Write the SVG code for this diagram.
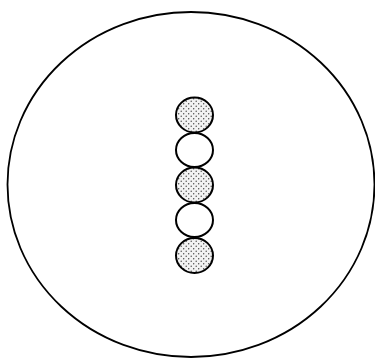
<svg xmlns="http://www.w3.org/2000/svg" width="375" height="361" viewBox="0 0 375 361">
<defs>
<pattern id="dots" width="5" height="5" patternUnits="userSpaceOnUse">
<rect width="5" height="5" fill="#f2f2f2"/>
<circle cx="1.2" cy="1.2" r="0.7" fill="#444"/>
<circle cx="3.7" cy="3.7" r="0.7" fill="#444"/>
</pattern>
<style>
.big{fill:none;stroke:#000;stroke-width:1.8}
.ball{stroke:#000;stroke-width:2}
.dot{fill:url(#dots)}
.plain{fill:#fff}
</style>
</defs>
<rect width="375" height="361" fill="#fff"/>
<g id="outer"><ellipse class="big" cx="191" cy="184.5" rx="183.5" ry="172.5"/></g>
<g id="ball1"><ellipse class="ball dot" cx="194.5" cy="115" rx="18.5" ry="17.5"/></g>
<g id="ball2"><ellipse class="ball plain" cx="194.5" cy="150" rx="18.5" ry="17"/></g>
<g id="ball3"><ellipse class="ball dot" cx="194.5" cy="185" rx="18.5" ry="17.5"/></g>
<g id="ball4"><ellipse class="ball plain" cx="194.5" cy="220" rx="18.5" ry="17"/></g>
<g id="ball5"><ellipse class="ball dot" cx="194.5" cy="255.5" rx="18.5" ry="17.5"/></g>
<g id="connectors"/>
</svg>
